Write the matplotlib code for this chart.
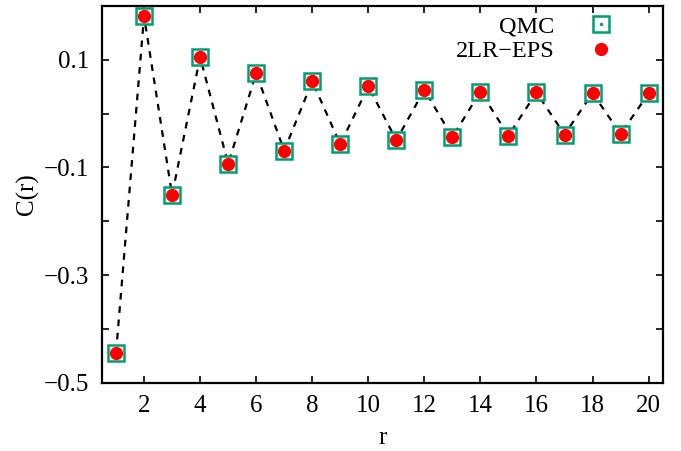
import matplotlib
matplotlib.use("Agg")
import matplotlib.pyplot as plt
from matplotlib.lines import Line2D

plt.rcParams['font.family'] = ['Liberation Serif', 'DejaVu Serif']
plt.rcParams['mathtext.fontset'] = 'stix'

r = list(range(1, 21))
qmc = [-0.444, 0.181, -0.151, 0.105, -0.0935, 0.075, -0.069, 0.060, -0.057, 0.0504,
       -0.0494, 0.0442, -0.0438, 0.041, -0.0408, 0.0392, -0.039, 0.038, -0.0377, 0.0373]
eps = list(qmc)

xticks = [2, 4, 6, 8, 10, 12, 14, 16, 18, 20]
yticks = [0.2, 0.1, 0.0, -0.1, -0.2, -0.3, -0.4, -0.5]
ylabels = ['', '0.1', '', '\u22120.1', '', '\u22120.3', '', '\u22120.5']

teal = '#009e73'
red = '#ff0000'

fig = plt.figure(figsize=(6.81, 4.51), dpi=100)
ax = fig.add_axes([0.1498, 0.151, 0.8232, 0.836])

ax.plot(r, eps, color='black', ls=(0, (3, 3)), lw=1.6, zorder=1)
ax.plot(r, qmc, ls='none', marker='s', ms=11.5, mfc='white', mec=teal, mew=1.8, zorder=2)
ax.plot(r, eps, ls='none', marker='o', ms=8.5, mfc=red, mec=red, zorder=3)

ax.set_xlim(0.5, 20.5)
ax.set_ylim(-0.5, 0.2)
ax.set_xticks(xticks)
ax.set_yticks(yticks)
ax.set_yticklabels(ylabels)
ax.tick_params(direction='in', top=True, right=True, length=5, width=1.2, labelsize=18, pad=9.5)
ax.tick_params(axis='x', pad=9)
for s in ax.spines.values():
    s.set_linewidth(1.6)

ax.set_xlabel('r', fontsize=18, labelpad=7)
ax.set_ylabel('C(r)', fontsize=18, labelpad=3)

h_sq = Line2D([], [], ls='none', marker='s', ms=11.5, mfc='white', mec=teal, mew=1.8)
h_dot = Line2D([], [], ls='none', marker='o', ms=1.5, mfc=teal, mec=teal)
h_c = Line2D([], [], ls='none', marker='o', ms=8.5, mfc=red, mec=red)
leg = ax.legend([(h_sq, h_dot), h_c], ['QMC', '2LR\u2212EPS'], loc='upper right',
                bbox_to_anchor=(0.95, 1.033), frameon=False, markerfirst=False,
                fontsize=17.5, handlelength=1.0, handletextpad=1.4, labelspacing=0.12)
for t in leg.get_texts():
    t.set_ha('right')

fig.savefig('out.png', dpi=100)
